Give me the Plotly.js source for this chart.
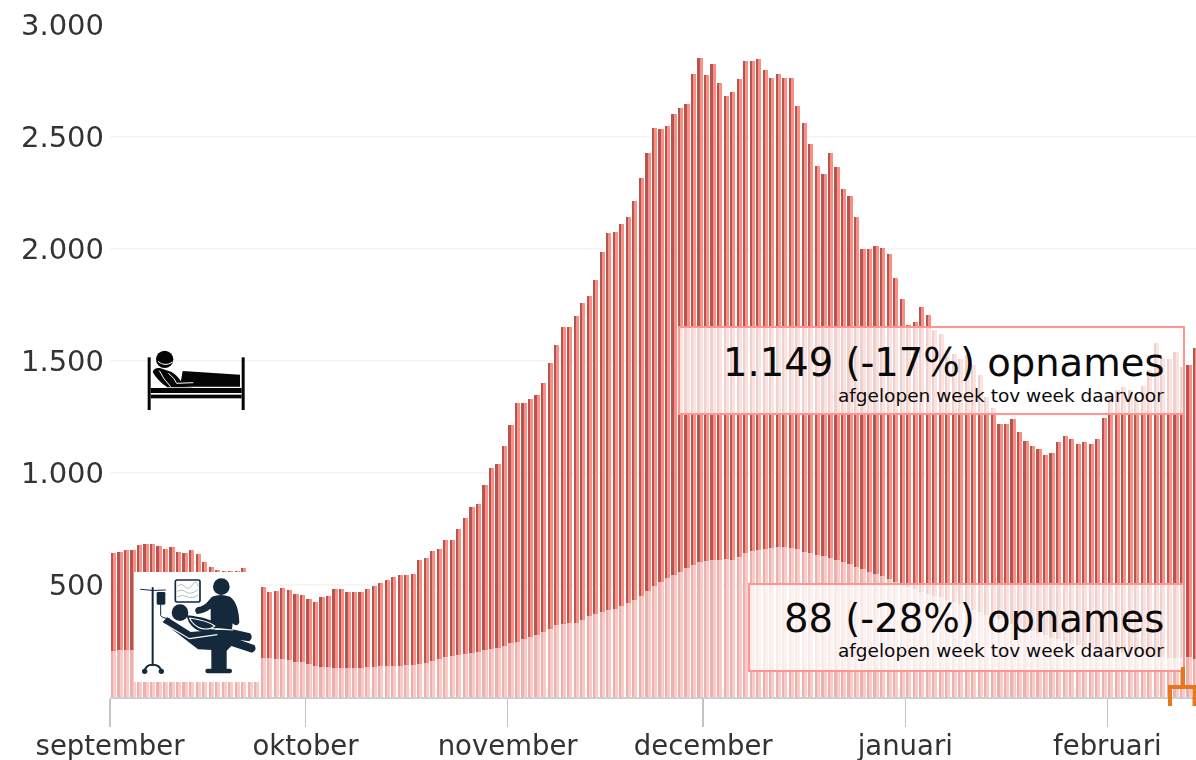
<!DOCTYPE html>
<html><head><meta charset="utf-8">
<script src="https://cdn.plot.ly/plotly-3.0.1.min.js"></script>
<style>
html,body{margin:0;padding:0;background:#fff;overflow:hidden}
#chart{width:1196px;height:760px}
.barlayer{filter:blur(.6px)}
.xtick text,.ytick text{filter:blur(.6px)}
.imagelayer{filter:blur(.5px)}
</style></head><body><div id="chart"></div>
<script>
const startDate = '2020-09-01';
const hospital = [
643,648,656,656,678,683,683,674,661,671,
649,643,656,638,603,582,567,562,562,564,
577,560,520,491,470,474,486,478,460,455,
437,425,448,452,482,482,471,471,471,482,
497,511,522,537,544,544,549,611,619,653,
659,701,701,748,797,849,861,946,1021,1040,
1122,1214,1311,1311,1329,1348,1400,1489,1571,1650,
1653,1701,1757,1790,1862,1985,2070,2077,2110,2144,
2216,2315,2427,2539,2534,2549,2603,2628,2647,2780,
2851,2777,2826,2743,2683,2703,2758,2840,2840,2847,
2800,2765,2782,2765,2765,2638,2563,2471,2370,2337,
2427,2367,2270,2238,2144,2000,2000,2013,2003,1976,
1869,1776,1660,1675,1742,1705,1640,1620,1549,1530,
1510,1526,1480,1437,1340,1288,1218,1218,1239,1181,
1144,1122,1105,1080,1090,1140,1165,1154,1129,1140,
1129,1150,1244,1340,1370,1385,1370,1340,1390,1460,
1579,1512,1510,1541,1475,1482,1557];
const icu = [
205,210,212,208,205,200,195,195,195,190,
190,188,185,185,182,180,178,176,176,175,
175,175,175,174,172,170,168,163,158,155,
148,140,135,132,130,130,130,130,130,132,
135,138,138,140,140,142,145,147,152,160,
168,177,182,188,192,195,200,208,214,220,
228,240,247,258,268,277,290,305,321,328,
330,332,345,361,372,380,388,395,406,418,
433,452,473,495,515,530,545,560,575,590,
601,605,610,612,614,612,625,641,650,655,
660,665,668,668,665,660,649,642,635,628,
620,612,603,592,580,570,560,550,540,525,
512,500,493,482,470,460,453,448,435,425,
415,405,388,380,368,358,348,336,325,318,
305,295,284,275,265,258,250,240,232,225,
218,212,205,202,198,195,190,188,187,183,
180,178,176,172,175,180,170];
const monthTicks = ['2020-09-01','2020-10-01','2020-11-01','2020-12-01','2021-01-01','2021-02-01'];
const monthLabels = ['september','oktober','november','december','januari','februari'];
const yTicks = [500,1000,1500,2000,2500,3000];
const box1Text = ['1.149 (-17%) opnames','afgelopen week tov week daarvoor'];
const box2Text = ['88 (-28%) opnames','afgelopen week tov week daarvoor'];

const DAY = 86400000;
const start = Date.parse(startDate + 'T00:00:00Z');
const dates = hospital.map((_, i) => new Date(start + i * DAY).toISOString().slice(0, 10));

const L = 110, T = 25, W = 1086, H = 672;
const px = x => (x - L) / W;
const py = y => (T + H - y) / H;

function bars(y, color, offset, width) {
  return {type:'bar', x:dates, y:y, offset:offset*DAY, width:width*DAY,
          marker:{color:color, line:{width:0}}, hoverinfo:'skip', showlegend:false};
}
const traces = [
  bars(hospital, '#fb8f86', 0.12, 0.80),
  bars(hospital, '#b35650', 0.12, 0.34),
  bars(icu, '#fccbc7', 0.12, 0.80),
  bars(icu, '#e9b2ae', 0.12, 0.34)
];

const bedSvg = `<svg xmlns="http://www.w3.org/2000/svg" width="390" height="240" viewBox="0 0 390 240">
<g fill="#050505">
<rect x="53" y="52" width="9" height="158"/><rect x="335" y="52" width="9" height="158"/>
<rect x="62" y="144" width="273" height="15"/><rect x="62" y="164" width="273" height="11"/>
<path d="M158 93 L330 104 L330 140 L150 140 Z"/>
<circle cx="104" cy="58" r="26"/>
<path d="M68 96 Q72 82 90 84 L125 96 Q150 112 160 138 L190 142 L112 142 Q82 122 68 96 Z"/>
</g>
<g fill="none" stroke="#fff" stroke-width="3">
<path d="M84 64 Q104 82 128 66"/><path d="M88 92 Q100 118 122 140"/><path d="M115 100 Q135 115 140 130 L190 128"/>
</g></svg>`;

const icuSvg = `<svg xmlns="http://www.w3.org/2000/svg" width="375" height="330" viewBox="12 20 375 330">
<rect x="12" y="20" width="375" height="330" fill="#fff"/>
<g fill="none" stroke="#14293c" stroke-linecap="round">
<path d="M68 68 V298" stroke-width="6"/>
<path d="M32 72 Q68 78 106 74" stroke-width="3"/>
<path d="M44 318 Q46 298 68 298 Q90 298 94 318" stroke-width="6"/>
<path d="M92 118 V150 Q94 158 118 160" stroke-width="3"/>
<rect x="136" y="44" width="74" height="66" rx="5" stroke-width="5" fill="#fff"/>
<path d="M143 62 Q155 52 165 64 T188 58 T204 62 M143 78 Q155 70 168 80 T204 74 M143 94 Q158 86 172 94 T204 90" stroke-width="1.5" stroke="#6b7d8b"/>
</g>
<g fill="#14293c">
<rect x="80" y="80" width="26" height="38" rx="4"/>
<circle cx="44" cy="318" r="8"/><circle cx="94" cy="318" r="8"/>
<circle cx="274" cy="64" r="25"/>
<path d="M246 94 Q272 84 300 94 Q326 112 328 172 Q320 186 308 174 L306 192 L242 188 L242 130 Q222 144 200 146 Q190 132 202 126 Q224 122 234 108 Z"/>
<circle cx="150" cy="142" r="25"/>
<path d="M98 170 L112 156 L182 200 L300 190 L360 204 Q372 216 358 228 L330 224 L374 240 Q382 256 366 262 L304 242 L290 256 L204 252 Z"/>
<rect x="244" y="246" width="46" height="70"/>
<rect x="226" y="310" width="80" height="14" rx="7"/>
<path d="M170 150 Q240 156 264 180 Q258 204 220 200 Q178 192 170 150 Z"/>
</g>
<g fill="none" stroke="#fff" stroke-width="3.5">
<path d="M178 158 Q235 166 254 182 Q240 194 216 190 Q192 184 178 158"/>
<path d="M104 176 L178 220 L262 208"/>
<path d="M242 190 L310 194"/>
</g></svg>`;
const dataUri = s => 'data:image/svg+xml;charset=utf-8,' + encodeURIComponent(s);

function box(x0, y0, x1, y1) {
  return {type:'rect', xref:'paper', yref:'paper', x0:px(x0), x1:px(x1), y0:py(y1), y1:py(y0),
          fillcolor:'rgba(255,255,255,0.74)', line:{color:'#ff9490', width:2}, layer:'above'};
}
function label(text, y, size) {
  return {text:text, xref:'paper', yref:'paper', x:px(1165), y:py(y), xanchor:'right', yanchor:'middle',
          showarrow:false, borderpad:0,
          font:{family:'"DejaVu Sans",Verdana,sans-serif', size:size, color:'#0a0a0a'}};
}

const layout = {
  width:1196, height:760,
  margin:{l:L, r:0, t:T, b:760-T-H, pad:0},
  paper_bgcolor:'#fff', plot_bgcolor:'#fff',
  barmode:'overlay', bargap:0, separators:',.', showlegend:false,
  font:{family:'"DejaVu Sans",Verdana,sans-serif', color:'#3d3d3d'},
  xaxis:{type:'date',
    range:[new Date(start).toISOString(), new Date(start + 166.6*DAY).toISOString()],
    tickmode:'array', tickvals:monthTicks, ticktext:monthLabels,
    ticks:'outside', ticklen:28, tickwidth:1.5, tickcolor:'#c4c4c4',
    showgrid:false, zeroline:false, showline:true, linecolor:'#cfcfcf', linewidth:2,
    tickfont:{size:27.5, color:'#333333'}, ticklabelstandoff:-5, tickangle:0, fixedrange:true},
  yaxis:{range:[0,3000], tickmode:'array', tickvals:yTicks, tickformat:',d',
    showgrid:true, gridcolor:'#f6f6f6', gridwidth:2, zeroline:false, showline:false, ticks:'',
    tickfont:{size:29, color:'#333333'}, ticklabelstandoff:5, fixedrange:true},
  shapes:[
    box(679,327,1184,414),
    box(749,584,1184,671),
    {type:'path', xref:'paper', yref:'paper',
     path:`M ${px(1183)} ${py(667)} L ${px(1183)} ${py(687)} M ${px(1170)} ${py(706)} L ${px(1170)} ${py(687)} L ${px(1194.5)} ${py(687)} L ${px(1194.5)} ${py(706)}`,
     line:{color:'#e8771c', width:4}, layer:'above'}
  ],
  annotations:[
    label(box1Text[0], 362, 38.5),
    label(box1Text[1], 395, 18.5),
    label(box2Text[0], 618, 38.5),
    label(box2Text[1], 650, 18.5)
  ],
  images:[
    {source:dataUri(bedSvg), xref:'paper', yref:'paper', x:px(130), y:py(340), sizex:130/W, sizey:80/H,
     xanchor:'left', yanchor:'top', sizing:'stretch', layer:'above'},
    {source:dataUri(icuSvg), xref:'paper', yref:'paper', x:px(134), y:py(572), sizex:125/W, sizey:110/H,
     xanchor:'left', yanchor:'top', sizing:'stretch', layer:'above'}
  ]
};
Plotly.newPlot('chart', traces, layout, {displayModeBar:false, staticPlot:true});
</script></body></html>
